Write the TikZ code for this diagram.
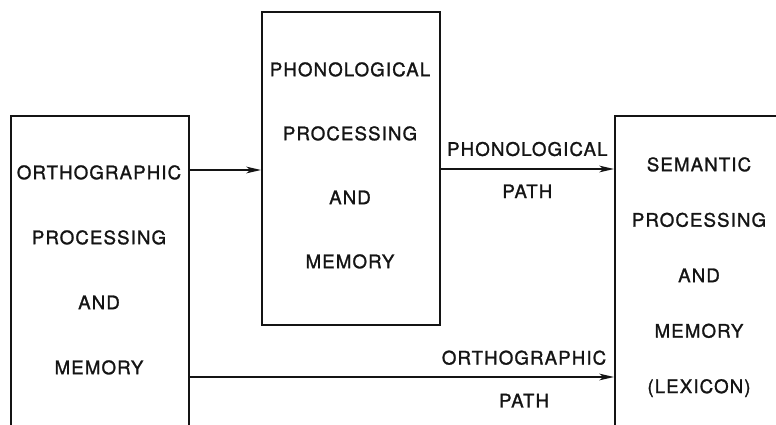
\documentclass[tikz,border=0pt]{standalone}
\usepackage{fontspec}
\setmainfont{TeX Gyre Heros}[LetterSpace=6,FakeBold=1.3]
\usepackage{tikz}
\usetikzlibrary{arrows.meta,positioning}
\definecolor{inkBlack}{RGB}{20,20,20}

\begin{document}
\begin{tikzpicture}[x=0.75pt,y=-0.75pt,
  procbox/.style={draw=inkBlack, line width=1.25pt, anchor=north west, inner sep=0pt},
  boxtext/.style={anchor=north, align=center, inner sep=0pt, text=inkBlack, font=\fontsize{14}{#1}\selectfont},
  flow/.style={draw=inkBlack, line width=1.25pt, -{Stealth[length=11pt,width=5pt,inset=3pt]}},
  pathlabel/.style={inner sep=0pt, text=inkBlack, font=\fontsize{14}{16}\selectfont}]
\useasboundingbox (0,0) rectangle (776,425);
\clip (0,0) rectangle (776,425);

% the three stores
\node[procbox, minimum width=133.5pt, minimum height=260pt] (ortho) at (10,115) {};
\node[procbox, minimum width=133.5pt, minimum height=234.75pt] (phono) at (261,11) {};
\node[procbox, minimum width=140pt, minimum height=260pt] (sem) at (614,115) {};

\node[boxtext=48.75pt] (orthoText) at (99,165) {ORTHOGRAPHIC\\PROCESSING\\AND\\MEMORY};
\node[boxtext=48pt] (phonoText) at (350,62) {PHONOLOGICAL\\PROCESSING\\AND\\MEMORY};
\node[boxtext=41.6pt] (semText) at (699,157) {SEMANTIC\\PROCESSING\\AND\\MEMORY\\(LEXICON)};

% rows of the connectors
\coordinate (rowA) at (0,170);
\coordinate (rowB) at (0,169);
\coordinate (rowC) at (0,377);

\draw[flow] (ortho.east |- rowA) -- (phono.west |- rowA);
\draw[flow] (phono.east |- rowB) -- (sem.west |- rowB)
  node[pathlabel, pos=0.5, above=9pt] (phonoPath) {PHONOLOGICAL}
  node[pathlabel, pos=0.5, below=11pt] (phonoPathB) {PATH};
\draw[flow] (ortho.east |- rowC) -- (sem.west |- rowC)
  node[pathlabel, pos=0.788, above=8.5pt] (orthoPath) {ORTHOGRAPHIC}
  node[pathlabel, pos=0.788, below=12pt] (orthoPathB) {PATH};
\end{tikzpicture}
\end{document}
